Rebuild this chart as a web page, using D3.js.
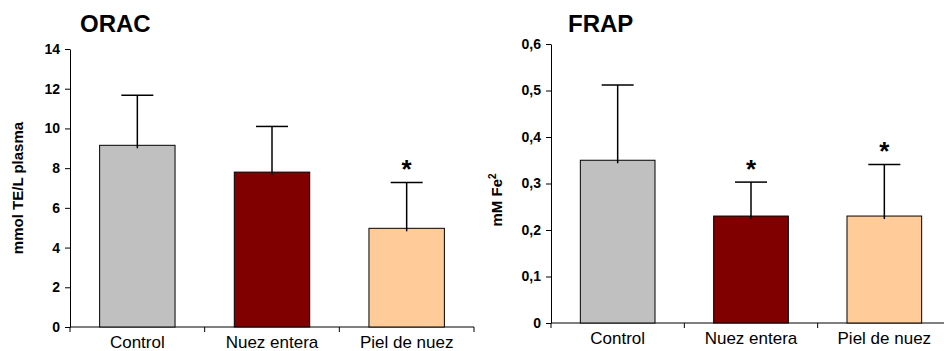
<!DOCTYPE html>
<html>
<head>
<meta charset="utf-8">
<script src="https://cdn.jsdelivr.net/npm/d3@7"></script>
<style>
  html, body { margin: 0; padding: 0; background: #fff; }
  svg { display: block; font-family: Arial, "Liberation Sans", sans-serif; }
  .domain, .tick line { stroke: #000; }
</style>
</head>
<body>
<svg id="chart" width="944" height="351"></svg>
<script>
// ── Data ──────────────────────────────────────────────
const categories = ['Control', 'Nuez entera', 'Piel de nuez'];
const barColors  = ['#C0C0C0', '#800000', '#FFCC99'];

const oracMean = [9.15, 7.8, 4.97];
const oracSD   = [2.52, 2.3, 2.31];
const oracSig  = [false, false, true];
const oracTicks = [0, 2, 4, 6, 8, 10, 12, 14];

const frapMean = [0.35, 0.23, 0.23];
const frapSD   = [0.162, 0.073, 0.111];
const frapSig  = [false, true, true];
const frapTicks = [0, 0.1, 0.2, 0.3, 0.4, 0.5, 0.6];

const svg = d3.select('#chart');

const comma = d3.formatLocale({ decimal: ',', thousands: '.', grouping: [3], currency: ['', ''] }).format('.1f');

function panel(opt) {
  const g = svg.append('g');
  const x = d3.scaleBand()
    .domain(categories)
    .range([opt.x0, opt.x1])
    .paddingInner(0.44)
    .paddingOuter(0.22);
  const y = d3.scaleLinear()
    .domain([0, opt.ymax])
    .range([opt.y0, opt.y1]);

  // y axis
  g.append('g')
    .attr('transform', `translate(${opt.x0},0)`)
    .call(d3.axisLeft(y).tickValues(opt.ticks).tickSize(5).tickSizeOuter(0).tickPadding(5).tickFormat(opt.fmt))
    .attr('font-family', 'Arial, "Liberation Sans", sans-serif')
    .attr('font-size', 14)
    .attr('font-weight', 'bold')
    .call(a => a.selectAll('text').attr('fill', '#000'));

  // x axis (ticks at category boundaries)
  const step = x.step();
  g.append('line')
    .attr('x1', opt.x0).attr('x2', opt.x0 + step * categories.length)
    .attr('y1', opt.y0).attr('y2', opt.y0)
    .attr('stroke', '#000');
  d3.range(categories.length + 1).forEach(i => {
    const xx = opt.x0 + step * i;
    g.append('line')
      .attr('x1', xx).attr('x2', xx)
      .attr('y1', opt.y0).attr('y2', opt.y0 + 5)
      .attr('stroke', '#000');
  });
  categories.forEach(c => {
    g.append('text')
      .attr('x', x(c) + x.bandwidth() / 2)
      .attr('y', opt.y0 + 21)
      .attr('text-anchor', 'middle')
      .attr('font-size', 17)
      .text(c);
  });

  // bars
  g.selectAll('rect.bar')
    .data(categories)
    .join('rect')
    .attr('class', 'bar')
    .attr('x', d => x(d))
    .attr('width', x.bandwidth())
    .attr('y', (d, i) => y(opt.mean[i]))
    .attr('height', (d, i) => opt.y0 - y(opt.mean[i]))
    .attr('fill', (d, i) => barColors[i])
    .attr('stroke', '#000')
    .attr('stroke-width', 1);

  // error bars (upper half only) + significance marks
  const cap = 16;
  categories.forEach((c, i) => {
    const cx = x(c) + x.bandwidth() / 2;
    const top = y(opt.mean[i] + opt.sd[i]);
    g.append('line')
      .attr('x1', cx).attr('x2', cx)
      .attr('y1', y(opt.mean[i]) + 3).attr('y2', top)
      .attr('stroke', '#000').attr('stroke-width', 1.5);
    g.append('line')
      .attr('x1', cx - cap).attr('x2', cx + cap)
      .attr('y1', top).attr('y2', top)
      .attr('stroke', '#000').attr('stroke-width', 1.5);
    if (opt.sig[i]) {
      g.append('text')
        .attr('x', cx)
        .attr('y', top - 4)
        .attr('text-anchor', 'middle')
        .attr('font-size', 26)
        .attr('font-weight', 'bold')
        .text('*');
    }
  });

  // title
  g.append('text')
    .attr('x', opt.titleX)
    .attr('y', 32)
    .attr('font-size', 24)
    .attr('font-weight', 'bold')
    .text(opt.title);

  // y label
  const yl = g.append('text')
    .attr('transform', `translate(${opt.labelX},${opt.labelY}) rotate(-90)`)
    .attr('text-anchor', 'middle')
    .attr('font-size', 15)
    .attr('font-weight', 'bold');
  opt.ylabel(yl);
}

panel({
  x0: 70, x1: 474, y0: 327, y1: 49, ymax: 14,
  ticks: oracTicks, fmt: d3.format('d'),
  mean: oracMean, sd: oracSD, sig: oracSig,
  title: 'ORAC', titleX: 80,
  labelX: 23, labelY: 188,
  ylabel: t => t.text('mmol TE/L plasma')
});

panel({
  x0: 551, x1: 951, y0: 323, y1: 44, ymax: 0.6,
  ticks: frapTicks, fmt: d => d === 0 ? '0' : comma(d),
  mean: frapMean, sd: frapSD, sig: frapSig,
  title: 'FRAP', titleX: 568,
  labelX: 502, labelY: 200,
  ylabel: t => {
    t.append('tspan').text('mM Fe');
    t.append('tspan').attr('dy', -6).attr('font-size', 10).text('2');
  }
});
</script>
</body>
</html>
